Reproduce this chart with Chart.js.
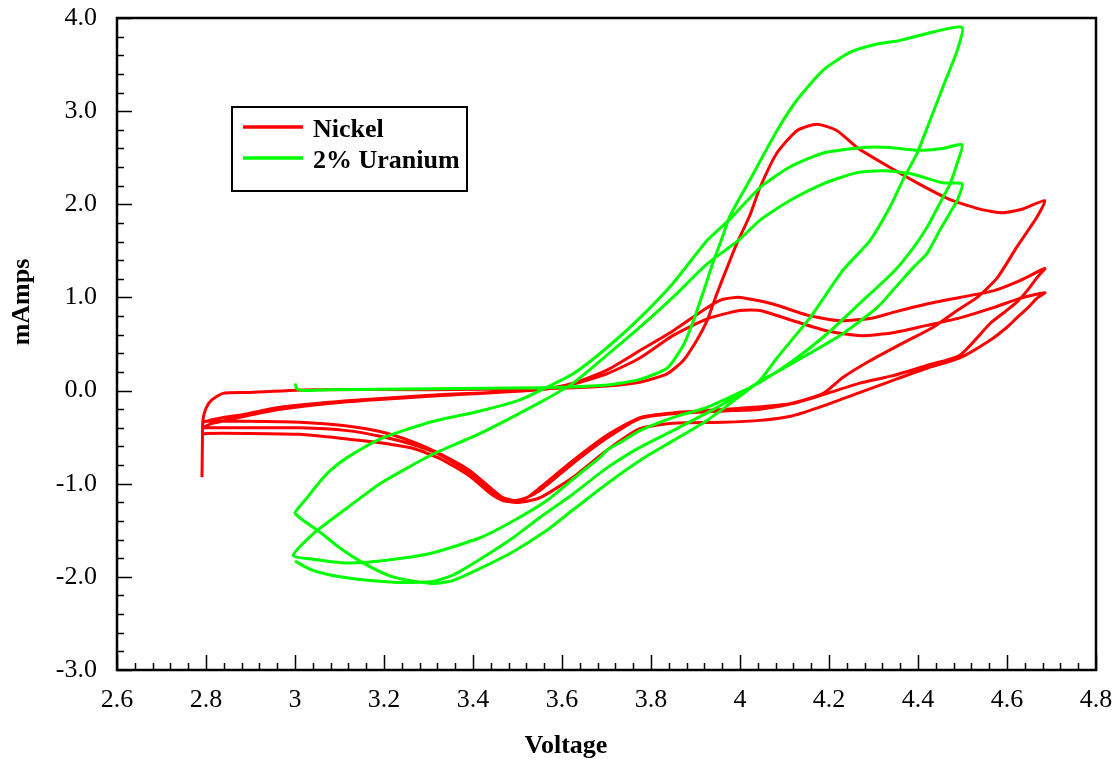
<!DOCTYPE html>
<html>
<head>
<meta charset="utf-8">
<script src="https://cdn.jsdelivr.net/npm/chart.js@4.4.0/dist/chart.umd.min.js"></script>
<style>
  html, body { margin: 0; padding: 0; background: #ffffff; }
  #wrap { position: relative; width: 1119px; height: 763px; }
</style>
</head>
<body>
<div id="wrap"><canvas id="c" width="1119" height="763"></canvas></div>
<script>
// ---------- axis ticks ----------
const xTickValues = [2.6, 2.8, 3.0, 3.2, 3.4, 3.6, 3.8, 4.0, 4.2, 4.4, 4.6, 4.8];
const xTickLabels = ['2.6', '2.8', '3', '3.2', '3.4', '3.6', '3.8', '4', '4.2', '4.4', '4.6', '4.8'];
const yTickValues = [-3, -2, -1, 0, 1, 2, 3, 4];
const yTickLabels = ['-3.0', '-2.0', '-1.0', '0.0', '1.0', '2.0', '3.0', '4.0'];
const xMinorStep = 0.04;
const yMinorStep = 0.2;

// ---------- titles / legend text ----------
const xTitle = 'Voltage';
const yTitle = 'mAmps';
const seriesNames = ['Nickel', '2% Uranium'];
const seriesColors = ['#ff0000', '#00ff00'];

// ---------- Nickel sweeps [voltage, mA] ----------
const nickelFwd1 = [[2.791,-0.93],[2.792,-0.54],[2.793,-0.32],[2.800,-0.19],[2.813,-0.10],[2.838,-0.03],[2.892,-0.02],[3.040,0.01],[3.303,0.01],[3.551,0.02],[3.701,0.05],[3.775,0.09],[3.836,0.18],[3.872,0.32],[3.903,0.54],[3.926,0.75],[3.948,1.04],[3.971,1.32],[3.993,1.58],[4.022,1.88],[4.045,2.18],[4.083,2.55],[4.128,2.79],[4.173,2.86],[4.218,2.79],[4.263,2.61],[4.321,2.44],[4.398,2.23],[4.472,2.05],[4.546,1.94],[4.591,1.91],[4.636,1.95],[4.685,2.04]];
const nickelRev1 = [[4.667,1.86],[4.622,1.54],[4.578,1.21],[4.533,1.00],[4.488,0.86],[4.434,0.68],[4.366,0.51],[4.292,0.32],[4.231,0.14],[4.187,-0.03],[4.112,-0.14],[4.000,-0.19],[3.849,-0.24],[3.775,-0.29],[3.701,-0.48],[3.625,-0.75],[3.551,-1.04],[3.521,-1.15],[3.494,-1.18],[3.467,-1.15],[3.438,-1.04],[3.393,-0.86],[3.326,-0.68],[3.265,-0.55],[3.191,-0.44],[3.117,-0.38],[3.011,-0.34],[2.892,-0.33],[2.800,-0.33],[2.793,-0.34]];
const nickelFwd2 = [[2.816,-0.31],[2.892,-0.25],[2.966,-0.18],[3.117,-0.11],[3.303,-0.05],[3.551,0.01],[3.625,0.08],[3.701,0.22],[3.775,0.43],[3.849,0.64],[3.926,0.89],[3.962,0.98],[4.000,1.00],[4.074,0.93],[4.151,0.81],[4.225,0.75],[4.299,0.78],[4.344,0.84],[4.420,0.93],[4.494,1.00],[4.569,1.07],[4.629,1.18],[4.685,1.31]];
const nickelRev2 = [[4.667,1.21],[4.645,1.07],[4.622,0.95],[4.591,0.83],[4.562,0.72],[4.494,0.38],[4.420,0.27],[4.344,0.16],[4.270,0.08],[4.196,-0.03],[4.119,-0.14],[4.045,-0.20],[3.962,-0.22],[3.849,-0.25],[3.775,-0.30],[3.701,-0.51],[3.625,-0.78],[3.551,-1.07],[3.506,-1.18],[3.467,-1.16],[3.438,-1.06],[3.393,-0.88],[3.326,-0.69],[3.265,-0.58],[3.191,-0.49],[3.117,-0.43],[3.011,-0.40],[2.892,-0.40],[2.800,-0.40],[2.793,-0.40]];
const nickelFwd3 = [[2.816,-0.35],[2.892,-0.27],[2.966,-0.20],[3.117,-0.12],[3.303,-0.06],[3.551,0.01],[3.625,0.07],[3.701,0.18],[3.775,0.35],[3.849,0.59],[3.926,0.77],[4.000,0.86],[4.045,0.86],[4.119,0.75],[4.196,0.64],[4.270,0.59],[4.344,0.62],[4.420,0.70],[4.494,0.78],[4.569,0.89],[4.629,0.99],[4.685,1.05]];
const nickelRev3 = [[4.667,0.99],[4.645,0.88],[4.622,0.78],[4.600,0.68],[4.562,0.54],[4.494,0.35],[4.420,0.24],[4.344,0.11],[4.270,-0.02],[4.196,-0.15],[4.119,-0.27],[4.045,-0.32],[3.962,-0.34],[3.849,-0.35],[3.775,-0.41],[3.701,-0.64],[3.625,-0.93],[3.551,-1.15],[3.506,-1.20],[3.467,-1.18],[3.438,-1.10],[3.393,-0.92],[3.326,-0.73],[3.265,-0.62],[3.191,-0.56],[3.117,-0.52],[3.011,-0.47],[2.892,-0.46],[2.800,-0.46],[2.793,-0.47]];

// ---------- 2% Uranium sweeps [voltage, mA] ----------
const uraniumFwd1 = [[3.000,0.075],[3.004,0.02],[3.018,0.00],[3.079,0.01],[3.303,0.02],[3.551,0.03],[3.701,0.06],[3.775,0.12],[3.836,0.24],[3.872,0.48],[3.894,0.73],[3.917,1.05],[3.939,1.37],[3.960,1.64],[3.978,1.88],[4.022,2.26],[4.083,2.79],[4.128,3.12],[4.187,3.44],[4.247,3.63],[4.308,3.72],[4.360,3.76],[4.434,3.85],[4.499,3.90]];
const uraniumRev1 = [[4.488,3.65],[4.456,3.26],[4.427,2.90],[4.398,2.55],[4.366,2.26],[4.337,1.97],[4.292,1.61],[4.231,1.29],[4.157,0.78],[4.083,0.35],[4.045,0.11],[4.000,-0.06],[3.926,-0.32],[3.849,-0.54],[3.775,-0.75],[3.701,-1.00],[3.625,-1.28],[3.566,-1.50],[3.490,-1.73],[3.416,-1.91],[3.355,-2.04],[3.310,-2.07],[3.258,-2.04],[3.213,-1.99],[3.153,-1.85],[3.101,-1.69],[3.056,-1.52],[3.000,-1.32]];
const uraniumFwd2 = [[3.011,-1.24],[3.027,-1.15],[3.052,-1.00],[3.079,-0.86],[3.117,-0.72],[3.191,-0.52],[3.303,-0.34],[3.416,-0.22],[3.506,-0.10],[3.551,0.00],[3.625,0.18],[3.701,0.46],[3.775,0.78],[3.849,1.15],[3.926,1.61],[3.975,1.83],[4.045,2.18],[4.112,2.40],[4.187,2.55],[4.276,2.61],[4.337,2.61],[4.398,2.58],[4.456,2.60],[4.499,2.64]];
const uraniumRev2 = [[4.488,2.44],[4.472,2.22],[4.449,2.01],[4.420,1.75],[4.389,1.53],[4.348,1.29],[4.270,0.94],[4.196,0.61],[4.119,0.32],[4.045,0.09],[4.000,-0.02],[3.926,-0.18],[3.849,-0.29],[3.775,-0.43],[3.737,-0.54],[3.701,-0.64],[3.685,-0.72],[3.640,-0.89],[3.566,-1.18],[3.490,-1.40],[3.416,-1.58],[3.303,-1.75],[3.191,-1.83],[3.117,-1.85],[3.040,-1.81],[2.996,-1.77]];
const uraniumFwd3 = [[3.040,-1.54],[3.117,-1.26],[3.191,-1.00],[3.303,-0.70],[3.416,-0.46],[3.557,-0.11],[3.625,0.08],[3.701,0.38],[3.775,0.68],[3.849,1.00],[3.926,1.36],[3.996,1.61],[4.045,1.83],[4.112,2.04],[4.187,2.22],[4.263,2.34],[4.321,2.36],[4.382,2.33],[4.456,2.23],[4.499,2.22]];
const uraniumRev3 = [[4.488,2.04],[4.472,1.91],[4.449,1.72],[4.420,1.47],[4.389,1.32],[4.348,1.10],[4.308,0.89],[4.231,0.61],[4.157,0.40],[4.090,0.22],[4.045,0.10],[4.000,-0.04],[3.926,-0.24],[3.849,-0.43],[3.775,-0.61],[3.701,-0.83],[3.625,-1.11],[3.551,-1.36],[3.490,-1.58],[3.416,-1.81],[3.355,-1.98],[3.310,-2.05],[3.258,-2.06],[3.229,-2.06],[3.169,-2.04],[3.117,-2.01],[3.079,-1.98],[3.040,-1.93],[3.022,-1.89],[3.000,-1.83]];

const nickelSweeps = [nickelFwd1, nickelRev1, nickelFwd2, nickelRev2, nickelFwd3, nickelRev3];
const uraniumSweeps = [uraniumFwd1, uraniumRev1, uraniumFwd2, uraniumRev2, uraniumFwd3, uraniumRev3];
const toPoints = sweeps => sweeps.flat().map(([x, y]) => ({ x, y }));

// ---------- plugins ----------
const FONT = "'Liberation Serif', 'Times New Roman', serif";

const framePlugin = {
  id: 'frameTicks',
  afterDatasetsDraw(chart) {
    const { ctx, chartArea: a, scales: { x, y } } = chart;
    ctx.save();
    ctx.strokeStyle = '#000';
    ctx.lineWidth = 1.5;
    const isMajor = (v, arr) => arr.some(t => Math.abs(t - v) < 1e-6);
    const x0 = xTickValues[0], x1 = xTickValues[xTickValues.length - 1];
    for (let k = 0; ; k++) {
      const v = x0 + k * xMinorStep;
      if (v > x1 + 1e-9) break;
      const px = Math.round(x.getPixelForValue(v)) + 0.5;
      const len = isMajor(v, xTickValues) ? 15 : 7;
      ctx.beginPath(); ctx.moveTo(px, a.bottom); ctx.lineTo(px, a.bottom - len); ctx.stroke();
    }
    const y0 = yTickValues[0], y1 = yTickValues[yTickValues.length - 1];
    for (let k = 0; ; k++) {
      const v = y0 + k * yMinorStep;
      if (v > y1 + 1e-9) break;
      const py = Math.round(y.getPixelForValue(v)) + 0.5;
      const len = isMajor(v, yTickValues) ? 15 : 7;
      ctx.beginPath(); ctx.moveTo(a.left, py); ctx.lineTo(a.left + len, py); ctx.stroke();
    }
    ctx.lineWidth = 2.5;
    ctx.strokeRect(a.left, a.top, a.right - a.left, a.bottom - a.top);
    ctx.restore();
  },
  afterDraw(chart) {
    const { ctx } = chart;
    ctx.save();
    ctx.fillStyle = '#000';
    ctx.font = `bold 26px ${FONT}`;
    ctx.textAlign = 'center';
    ctx.textBaseline = 'alphabetic';
    ctx.fillText(xTitle, 566, 753);
    ctx.translate(29, 302);
    ctx.rotate(-Math.PI / 2);
    ctx.fillText(yTitle, 0, 0);
    ctx.restore();

    // legend box
    ctx.save();
    ctx.strokeStyle = '#000';
    ctx.lineWidth = 2;
    ctx.strokeRect(232, 107, 235, 84);
    const rows = [137, 168];
    const lineYs = [127, 158];
    chart.data.datasets.forEach((ds, i) => {
      ctx.strokeStyle = ds.borderColor;
      ctx.lineWidth = 3.5;
      ctx.beginPath(); ctx.moveTo(243, lineYs[i]); ctx.lineTo(303, lineYs[i]); ctx.stroke();
      ctx.fillStyle = '#000';
      ctx.font = `bold 26px ${FONT}`;
      ctx.textAlign = 'left';
      ctx.textBaseline = 'alphabetic';
      ctx.fillText(ds.label, 313, rows[i]);
    });
    ctx.restore();
  }
};

new Chart(document.getElementById('c'), {
  type: 'scatter',
  data: {
    datasets: [
      { label: seriesNames[0], data: toPoints(nickelSweeps), borderColor: seriesColors[0], backgroundColor: seriesColors[0], order: 1 },
      { label: seriesNames[1], data: toPoints(uraniumSweeps), borderColor: seriesColors[1], backgroundColor: seriesColors[1], order: 0 }
    ]
  },
  options: {
    responsive: false,
    animation: false,
    devicePixelRatio: 1,
    showLine: true,
    elements: {
      point: { radius: 0, hoverRadius: 0 },
      line: { borderWidth: 3, tension: 0.2, fill: false }
    },
    layout: { padding: { left: 0, right: 23, top: 18, bottom: 0 } },
    plugins: { legend: { display: false }, tooltip: { enabled: false } },
    scales: {
      x: {
        type: 'linear', min: 2.6, max: 4.8,
        grid: { display: false }, border: { display: false },
        afterBuildTicks: s => { s.ticks = xTickValues.map(v => ({ value: v })); },
        afterFit: s => { s.height = 93; s.paddingLeft = 0; s.paddingRight = 0; },
        ticks: {
          autoSkip: false, maxRotation: 0, padding: 7,
          color: '#000', font: { family: FONT, size: 26 },
          callback: (v, i) => xTickLabels[i]
        }
      },
      y: {
        type: 'linear', min: -3, max: 4,
        grid: { display: false }, border: { display: false },
        afterBuildTicks: s => { s.ticks = yTickValues.map(v => ({ value: v })); },
        afterFit: s => { s.width = 117; s.paddingTop = 0; s.paddingBottom = 0; },
        ticks: {
          autoSkip: false, padding: 12,
          color: '#000', font: { family: FONT, size: 26 },
          callback: (v, i) => yTickLabels[i]
        }
      }
    }
  },
  plugins: [framePlugin]
});
</script>
</body>
</html>
